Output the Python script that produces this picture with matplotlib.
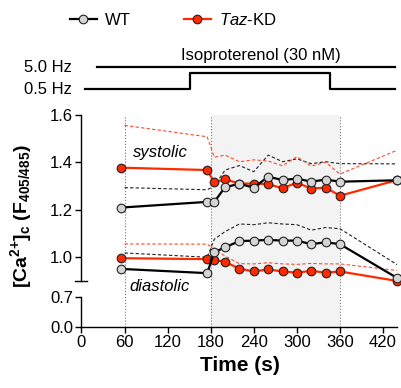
import numpy as np
import matplotlib
matplotlib.use("Agg")
import matplotlib.pyplot as plt
from matplotlib.lines import Line2D

plt.rcParams['font.family'] = ['Liberation Sans', 'DejaVu Sans']
plt.rcParams['mathtext.fontset'] = 'custom'
plt.rcParams['mathtext.rm'] = 'Liberation Sans'
plt.rcParams['mathtext.it'] = 'Liberation Sans:italic'
plt.rcParams['mathtext.bf'] = 'Liberation Sans:bold'

# mean values (points)
t_mean = [55, 175, 185, 200, 220, 240, 260, 280, 300, 320, 340, 360, 440]
wt_sys = [1.209, 1.233, 1.233, 1.295, 1.309, 1.293, 1.339, 1.325, 1.331, 1.318, 1.327, 1.318, 1.324]
kd_sys = [1.377, 1.367, 1.315, 1.328, 1.310, 1.310, 1.308, 1.290, 1.314, 1.289, 1.293, 1.259, 1.325]
wt_dia = [0.951, 0.933, 1.021, 1.042, 1.068, 1.070, 1.073, 1.070, 1.070, 1.055, 1.063, 1.055, 0.912]
kd_dia = [0.996, 0.992, 0.989, 0.980, 0.952, 0.940, 0.949, 0.940, 0.935, 0.943, 0.935, 0.940, 0.900]

# upper SD (dashed)
t_sd = [60, 175, 185, 200, 220, 240, 260, 280, 300, 320, 340, 360, 440]
wt_sys_sd = [1.293, 1.284, 1.300, 1.367, 1.386, 1.360, 1.430, 1.402, 1.414, 1.394, 1.402, 1.394, 1.393]
kd_sys_sd = [1.555, 1.507, 1.421, 1.430, 1.402, 1.410, 1.405, 1.385, 1.423, 1.384, 1.400, 1.350, 1.451]
wt_dia_sd = [1.018, 1.000, 1.076, 1.108, 1.140, 1.137, 1.145, 1.140, 1.137, 1.114, 1.125, 1.120, 0.968]
kd_dia_sd = [1.056, 1.055, 1.034, 1.005, 0.973, 0.972, 0.977, 0.972, 0.970, 0.974, 0.972, 0.972, 0.944]

# protocol
pace_t = [5, 151, 151, 346, 346, 436]
pace_lvl = [0, 0, 1, 1, 0, 0]
iso_t = [22, 436]

xticks = [0, 60, 120, 180, 240, 300, 360, 420]
yticks = [0.0, 0.7, 1.0, 1.2, 1.4, 1.6]

RED = '#ff2a00'
RED_SD = '#ff4a2a'
GREY = '#d4d4d4'

# broken y axis: piecewise linear scale
bp_y = np.array([-10, 0, 0.7, 0.9, 1.6, 10])
bp_t = np.array([-10 * 30 / 0.7, 0, 30, 45.7, 212, 212 + 8.4 * 237.7])


def fwd(y):
    return np.interp(y, bp_y, bp_t)


def inv(t):
    return np.interp(t, bp_t, bp_y)


fig = plt.figure(figsize=(4.02, 3.88), dpi=100)
ax = fig.add_axes([0.2027, 0.158, 0.7859, 0.5464])
ax.set_yscale('function', functions=(fwd, inv))
ax.set_xlim(0, 440)
ax.set_ylim(0, 1.6)

ax.axvspan(180, 360, color='#f3f3f3', zorder=0, lw=0)
for xv in [60, 180, 360]:
    ax.axvline(xv, color='#777777', ls=':', lw=0.8, zorder=1)

ax.plot(t_sd, wt_sys_sd, color='#222222', lw=0.8, dashes=(3, 2), zorder=2)
ax.plot(t_sd, wt_dia_sd, color='#222222', lw=0.8, dashes=(3, 2), zorder=2)
ax.plot(t_sd, kd_sys_sd, color=RED_SD, lw=0.8, dashes=(3, 2), zorder=2)
ax.plot(t_sd, kd_dia_sd, color=RED_SD, lw=0.8, dashes=(3, 2), zorder=2)

mk = dict(marker='o', ms=6.2, mew=0.8, mec='#222222', clip_on=False)
ax.plot(t_mean, kd_sys, color=RED, lw=1.6, mfc=RED, zorder=3, **mk)
ax.plot(t_mean, kd_dia, color=RED, lw=1.6, mfc=RED, zorder=3, **mk)
ax.plot(t_mean, wt_sys, color='black', lw=1.6, mfc=GREY, zorder=4, **mk)
ax.plot(t_mean, wt_dia, color='black', lw=1.6, mfc=GREY, zorder=4, **mk)

ax.text(72, 1.44, 'systolic', fontsize=12, style='italic', va='center')
ax.text(67, 0.83, 'diastolic', fontsize=12, style='italic', va='center')

# axes styling
for s in ['top', 'right', 'left']:
    ax.spines[s].set_visible(False)
ax.spines['bottom'].set_linewidth(1.0)
yt = ax.get_yaxis_transform()
ax.plot([0, 0], [0.9, 1.6], color='black', lw=1.0, transform=yt, clip_on=False)
ax.plot([0, 0], [0.0, 0.7], color='black', lw=1.0, transform=yt, clip_on=False)
ax.plot([-0.019, 0.019], [0.9, 0.9], color='black', lw=1.0, transform=yt, clip_on=False)

ax.set_xticks(xticks)
ax.set_yticks(yticks)
ax.set_yticklabels([f'{v:.1f}' for v in yticks])
ax.tick_params(axis='both', labelsize=12, length=4, width=1.0, pad=2)
ax.set_xlabel('Time (s)', fontsize=15, fontweight='bold', labelpad=4)
fig.text(0.052, 0.443, r'$\mathbf{[Ca^{2{+}}]_c\ (F_{405/485})}$',
         rotation=90, ha='center', va='center', fontsize=14)

# protocol panel
pax = fig.add_axes([0.2027, 0.755, 0.7859, 0.129])
pax.set_xlim(0, 440)
pax.set_ylim(0, 1)
pax.axis('off')
pax.plot(iso_t, [0.56, 0.56], color='black', lw=1.6, clip_on=False)
pax.plot(pace_t, [0.12 + 0.32 * v for v in pace_lvl], color='black', lw=1.6, clip_on=False)
pax.text(-14, 0.56, '5.0 Hz', fontsize=12, ha='right', va='center')
pax.text(-14, 0.12, '0.5 Hz', fontsize=12, ha='right', va='center')
pax.text(250, 0.80, 'Isoproterenol (30 nM)', fontsize=12, ha='center', va='center')

handles = [Line2D([], [], color='black', lw=1.6, marker='o', ms=6.2, mfc=GREY, mec='#222222', mew=0.8),
           Line2D([], [], color=RED, lw=1.6, marker='o', ms=6.2, mfc=RED, mec='#222222', mew=0.8)]
fig.legend(handles, ['WT', r'$\it{Taz}$-KD'], loc='center left', bbox_to_anchor=(0.174, 0.948),
           ncol=2, frameon=False, fontsize=12, borderpad=0, borderaxespad=0,
           handlelength=1.6, handletextpad=0.5, columnspacing=3.2)

fig.savefig('out.png', dpi=100)
